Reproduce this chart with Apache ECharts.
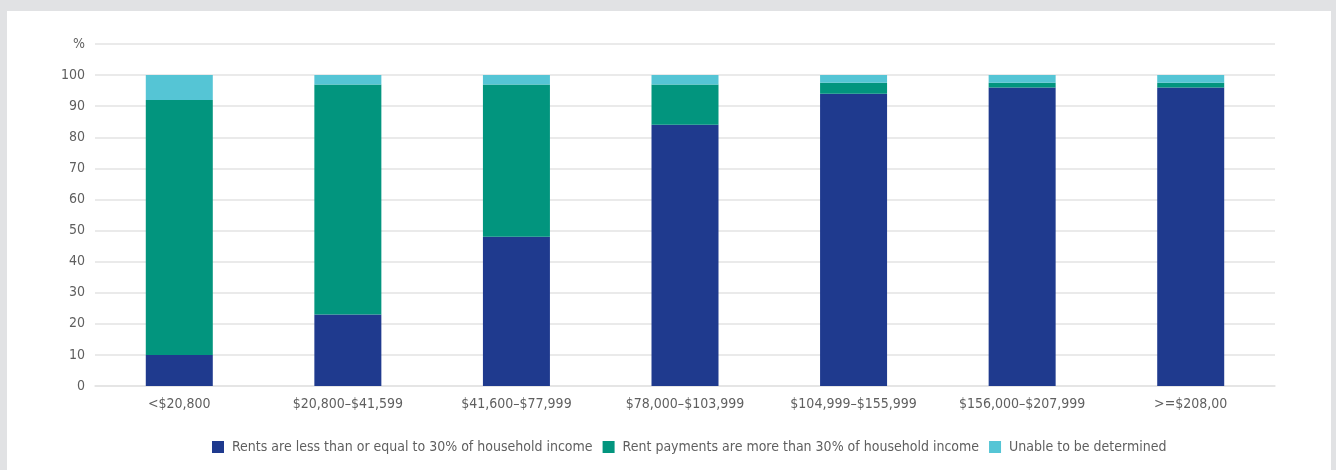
<!DOCTYPE html>
<html>
<head>
<meta charset="utf-8">
<script src="https://cdn.jsdelivr.net/npm/echarts@6/dist/echarts.min.js"></script>
<style>
  html, body { margin: 0; padding: 0; background: #e1e2e4; }
  #panel { position: absolute; left: 7px; top: 11px; width: 1324px; height: 459px; background: #fff; }
  #myChart { position: absolute; left: 0; top: 0; width: 1336px; height: 470px; }
</style>
</head>
<body>
<div id="panel"></div>
<div id="myChart"></div>
<script>
// income bands
const categories = ['<$20,800', '$20,800\u2013$41,599', '$41,600\u2013$77,999', '$78,000\u2013$103,999',
  '$104,999\u2013$155,999', '$156,000\u2013$207,999', '>=$208,00'];
// % of renting households
const rentsWithin30 = [10, 23, 48, 84, 94, 96, 96];
const rentsOver30 = [82, 74, 49, 13, 3.5, 1.5, 1.5];
const undetermined = [8, 3, 3, 3, 2.5, 2.5, 2.5];
const seriesNames = ['Rents are less than or equal to 30% of household income',
  'Rent payments are more than 30% of household income', 'Unable to be determined'];

const font = 'Liberation Sans Narrow, DejaVu Sans Condensed, sans-serif';
const textGray = '#5f5f5f';

var chartDom = document.getElementById('myChart');
var myChart = echarts.init(chartDom);
var option;

function bar(name, data, color) {
  return {
    name: name,
    type: 'bar',
    stack: 'total',
    barWidth: 67,
    itemStyle: { color: color },
    data: data
  };
}

option = {
  animation: false,
  textStyle: { fontFamily: font },
  grid: { left: 95, right: 61, top: 44, bottom: 84 },
  legend: {
    left: 207,
    top: 435,
    itemWidth: 12,
    itemHeight: 12,
    itemGap: 10,
    icon: 'rect',
    textStyle: { color: textGray, fontSize: 14, fontFamily: font, padding: [0, 0, 0, 3] },
    data: seriesNames
  },
  xAxis: {
    type: 'category',
    data: categories,
    axisTick: { show: false },
    axisLine: { show: true, lineStyle: { color: '#e3e3e3', width: 1.5 } },
    axisLabel: { color: textGray, fontSize: 14, fontFamily: font, margin: 11, interval: 0 }
  },
  yAxis: {
    type: 'value',
    min: 0,
    max: 110,
    interval: 10,
    axisLine: { show: false },
    axisTick: { show: false },
    splitLine: { lineStyle: { color: '#e3e3e3', width: 1.5 } },
    axisLabel: {
      color: textGray,
      fontSize: 14,
      fontFamily: font,
      margin: 10,
      formatter: function (v) { return v === 110 ? '%' : v; }
    }
  },
  series: [
    bar(seriesNames[0], rentsWithin30, '#1f3a8e'),
    bar(seriesNames[1], rentsOver30, '#02957e'),
    bar(seriesNames[2], undetermined, '#55c5d5')
  ]
};

option && myChart.setOption(option);
</script>
</body>
</html>
